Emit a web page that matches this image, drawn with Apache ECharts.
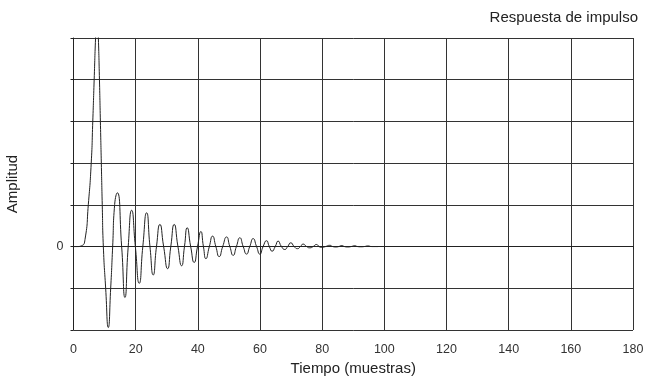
<!DOCTYPE html>
<html>
<head>
<meta charset="utf-8">
<script src="https://cdn.jsdelivr.net/npm/echarts@6/dist/echarts.min.js"></script>
<style>html,body{margin:0;padding:0;background:#fff}#c{width:651px;height:376px}</style>
</head>
<body>
<div id="c"></div>
<script>
// Sample positions (muestras) and amplitudes
var samples = [0, 1.0, 2.6, 3.7, 4.76, 5.7, 6.2, 6.65, 7.1, 7.6, 8.0, 8.35, 8.65, 8.95, 9.25, 9.6, 10.35, 11.19, 11.96, 12.6, 13.24, 14.08, 15.49, 16.55, 17.6, 18.71, 19.9, 21.15, 22.3, 23.53, 24.6, 25.65, 26.7, 27.8, 29.0, 30.28, 31.3, 32.4, 33.6, 34.78, 35.7, 36.58, 37.7, 38.83, 39.9, 40.98, 41.8, 42.59, 43.7, 44.74, 45.8, 46.87, 48.0, 49.24, 50.3, 51.37, 52.4, 53.52, 54.6, 55.67, 56.7, 57.8, 58.9, 59.95, 61.0, 62.1, 63.0, 63.9, 64.9, 65.83, 66.9, 67.98, 68.9, 69.91, 71.0, 72.07, 73.0, 73.87, 75.0, 76.02, 77.1, 78.17, 79.0, 79.78, 81.1, 82.45, 83.4, 84.4, 85.3, 86.3, 87.2, 88.2, 89.3, 90.5, 91.4, 92.4, 93.5, 94.7, 96.0, 98.0];
var amplitude = [0, 0, 0.02, 0.17, 1.0, 2.0, 3.0, 4.0, 5.0, 5.8, 5.0, 4.0, 3.0, 2.0, 1.0, 0, -1.0, -1.94, -1.0, 0, 1.01, 1.29, 0, -1.22, 0, 0.87, 0, -0.88, 0, 0.81, 0, -0.68, 0, 0.53, 0, -0.53, 0, 0.53, 0, -0.46, 0, 0.45, 0, -0.38, 0, 0.36, 0, -0.29, 0, 0.25, 0, -0.24, 0, 0.23, 0, -0.21, 0, 0.21, 0, -0.18, 0, 0.19, 0, -0.18, 0, 0.14, 0, -0.11, 0, 0.13, 0, -0.07, 0, 0.09, 0, -0.05, 0, 0.06, 0, -0.03, 0, 0.05, 0, -0.02, 0, 0.03, 0, -0.01, 0, 0.025, 0, -0.01, 0, 0.02, 0, -0.005, 0, 0.015, 0, 0];
var xTicks = [0, 20, 40, 60, 80, 100, 120, 140, 160, 180];
var yLabels = ['0'];

var data = samples.map(function (s, i) { return [s, amplitude[i]]; });
var font = 'Liberation Sans';
var chart = echarts.init(document.getElementById('c'), null, {renderer: 'canvas'});
chart.setOption({
  animation: false,
  backgroundColor: '#fff',
  title: {
    text: 'Respuesta de impulso',
    right: 8, top: 5,
    textStyle: {fontFamily: font, fontSize: 15, fontWeight: 'normal', color: '#222'}
  },
  grid: {left: 73.5, right: 18, top: 38, bottom: 46, containLabel: false, outerBoundsMode: 'none'},
  xAxis: {
    type: 'value', min: 0, max: 180, interval: 20,
    name: 'Tiempo (muestras)', nameLocation: 'middle', nameGap: 31,
    nameTextStyle: {fontFamily: font, fontSize: 15, color: '#222'},
    axisLine: {show: true, lineStyle: {color: '#222', width: 1}},
    axisTick: {show: true, length: 3, lineStyle: {color: '#222'}},
    axisLabel: {
      fontFamily: font, fontSize: 12.5, color: '#333', margin: 13,
      formatter: function (v) { return xTicks.indexOf(v) >= 0 ? String(v) : ''; }
    },
    splitLine: {show: true, lineStyle: {color: '#333', width: 1}}
  },
  yAxis: {
    type: 'value', min: -2, max: 5, interval: 1,
    name: 'Amplitud', nameLocation: 'middle', nameGap: 53,
    nameTextStyle: {fontFamily: font, fontSize: 15, color: '#222'},
    axisLine: {show: true, lineStyle: {color: '#222', width: 1}},
    axisTick: {show: true, length: 3, lineStyle: {color: '#222'}},
    axisLabel: {
      fontFamily: font, fontSize: 12.5, color: '#333', margin: 10,
      formatter: function (v) { return yLabels.indexOf(String(v)) >= 0 ? String(v) : ''; }
    },
    splitLine: {show: true, lineStyle: {color: '#333', width: 1}}
  },
  series: [{
    type: 'line',
    data: data,
    smooth: 0.6,
    showSymbol: false,
    clip: true,
    lineStyle: {color: '#222', width: 1}
  }]
});
</script>
</body>
</html>
